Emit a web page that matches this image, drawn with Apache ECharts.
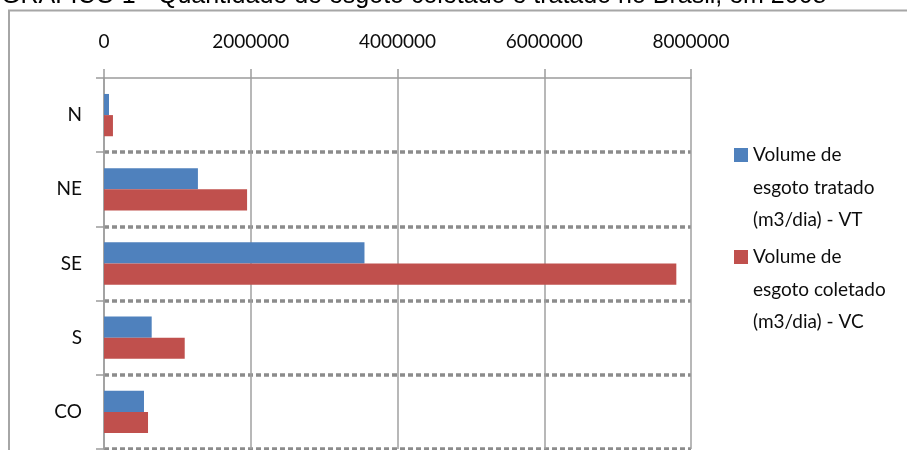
<!DOCTYPE html>
<html><head><meta charset="utf-8">
<script src="https://cdn.jsdelivr.net/npm/echarts@6/dist/echarts.min.js"></script>
<style>html,body{margin:0;padding:0;background:#fff}#c{width:907px;height:450px}</style>
</head><body><div id="c"></div>
<script>
const categories = ['N', 'NE', 'SE', 'S', 'CO'];
const tratado = [68000, 1280000, 3550000, 650000, 545000];
const coletado = [122000, 1950000, 7800000, 1100000, 600000];
const valueTicks = [0, 2000000, 4000000, 6000000, 8000000];
const seriesNames = ['Volume de\nesgoto tratado\n(m3/dia) - VT', 'Volume de\nesgoto coletado\n(m3/dia) - VC'];
const titleText = 'GRÁFICO 1 - Quantidade de esgoto coletado e tratado no Brasil, em 2008';

const font = 'Lato';
const chart = echarts.init(document.getElementById('c'), null, {renderer: 'canvas'});
const axisGray = '#9c9c9c';
chart.setOption({
  animation: false,
  backgroundColor: '#fff',
  textStyle: {fontFamily: font},
  grid: {left: 104, right: 216, top: 78, bottom: 1, containLabel: false},
  xAxis: {
    type: 'value', position: 'top',
    min: valueTicks[0], max: valueTicks[valueTicks.length - 1],
    interval: valueTicks[1] - valueTicks[0],
    axisLine: {show: true, lineStyle: {color: axisGray, width: 1.5}},
    axisTick: {show: true, length: 9, lineStyle: {color: axisGray, width: 1.5}},
    axisLabel: {margin: 27, fontSize: 19, color: '#0d0d0d', fontFamily: font,
                formatter: v => String(v)},
    splitLine: {show: true, lineStyle: {color: '#a0a0a0', width: 1.5}}
  },
  yAxis: {
    type: 'category', inverse: true, data: categories,
    axisLine: {show: true, lineStyle: {color: axisGray, width: 1.5}},
    axisTick: {show: true, length: 8, lineStyle: {color: axisGray, width: 1.5}},
    axisLabel: {margin: 22, fontSize: 19, color: '#0d0d0d', fontFamily: font},
    splitLine: {show: true, showMinLine: false, lineStyle: {color: '#8c8c8c', width: 3.5, type: [5, 3]}}
  },
  legend: {
    orient: 'vertical', left: 734, top: 73.75, padding: 0,
    itemWidth: 14, itemHeight: 14, itemGap: -60.5, icon: 'rect',
    selectedMode: false,
    formatter: name => '\n\n' + name,
    textStyle: {fontSize: 19, fontFamily: font, color: '#0d0d0d', lineHeight: 32.5}
  },
  graphic: [
    {type: 'polyline', silent: true, shape: {points: [[9, 450], [9, 10.5], [907, 10.5]]},
     style: {stroke: '#a6a6a6', lineWidth: 2, fill: null}},
    {type: 'text', silent: true, style: {text: titleText, x: 1, y: 9, verticalAlign: 'bottom',
     font: '25px "Liberation Sans"', fill: '#000'}}
  ],
  series: [
    {name: seriesNames[0], type: 'bar', data: tratado, barGap: '0%', barCategoryGap: '43%',
     itemStyle: {color: '#4F81BD'}},
    {name: seriesNames[1], type: 'bar', data: coletado, barGap: '0%', barCategoryGap: '43%',
     itemStyle: {color: '#C0504D'}}
  ]
});
</script></body></html>
